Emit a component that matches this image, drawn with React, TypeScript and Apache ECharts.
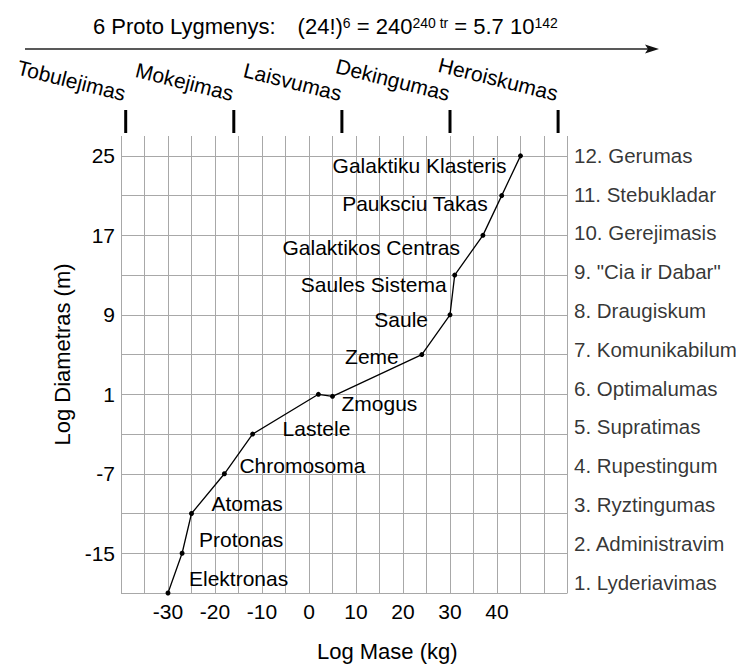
import React, { useEffect, useRef } from 'react';
import * as echarts from 'echarts';

const FONT = '"Liberation Sans", Arial, Helvetica, sans-serif';

// ---- data ----
const objectNames = [
  'Elektronas', 'Protonas', 'Atomas', 'Chromosoma', 'Lastele', '', 'Zmogus',
  'Zeme', 'Saule', 'Saules Sistema', 'Galaktikos Centras', 'Pauksciu Takas', 'Galaktiku Klasteris',
];
const logMass = [-30, -27, -25, -18, -12, 2, 5, 24, 30, 31, 37, 41, 45];
const logDiameter = [-19, -15, -11, -7, -3, 1, 0.8, 5, 9, 13, 17, 21, 25];

const levelNames = [
  '1. Lyderiavimas', '2. Administravim', '3. Ryztingumas', '4. Rupestingum',
  '5. Supratimas', '6. Optimalumas', '7. Komunikabilum', '8. Draugiskum',
  '9. "Cia ir Dabar"', '10. Gerejimasis', '11. Stebukladar', '12. Gerumas',
];
const levelValues = [1, 2, 3, 4, 5, 6, 7, 8, 9, 10, 11, 12];

const protoLevels = ['Tobulejimas', 'Mokejimas', 'Laisvumas', 'Dekingumas', 'Heroiskumas'];
const protoLevelMass = [-39, -16, 7, 30, 53];

const xTickLabels = [-30, -20, -10, 0, 10, 20, 30, 40];
const yTickLabels = [25, 17, 9, 1, -7, -15];

// ---- label placement (styling, pixels relative to the point) ----
const labelPlacement: [number, number, string][] = [
  [21, -15, 'left'], [17, -14, 'left'], [20, -10, 'left'], [15, -8, 'left'], [30, -6, 'left'],
  [0, 0, 'left'], [9, 7, 'left'],
  [-23, 2, 'right'], [-22, 5, 'right'], [-8, 9, 'right'], [-23, 12, 'right'],
  [-14, 8, 'right'], [-14, 10, 'right'],
];

const X_MIN = -40, X_MAX = 55, Y_MIN = -19, Y_MAX = 27;

export default function App() {
  const ref = useRef<HTMLDivElement>(null);
  useEffect(() => {
    if (!ref.current) return;
    const chart = echarts.init(ref.current, undefined, { renderer: 'svg' });
    const SYM = 5;
    const main = { fontSize: 22, fontFamily: FONT, fontWeight: 'normal', color: '#000', lineHeight: 21, verticalAlign: 'bottom' };
    const option: any = {
      animation: false,
      textStyle: { fontFamily: FONT, color: '#000' },
      title: {
        text: '{m|6 Proto Lygmenys:}{g|(24!)}{s|6}{m| = 240}{s|240 tr}{m| = 5.7 10}{s|142}',
        left: 93,
        top: 16,
        padding: 0,
        textStyle: {
          fontWeight: 'normal',
          fontSize: 22,
          fontFamily: FONT,
          color: '#000',
          rich: {
            m: main,
            g: { ...main, padding: [0, 0, 0, 22] },
            s: { fontSize: 14, fontFamily: FONT, fontWeight: 'normal', color: '#000', lineHeight: 14, verticalAlign: 'top' },
          },
        },
      },
      grid: { left: 121, right: 183.5, top: 136, bottom: 71 },
      xAxis: {
        type: 'value',
        min: X_MIN,
        max: X_MAX,
        interval: 5,
        axisLine: { show: false },
        axisTick: { show: false },
        splitLine: { show: true, lineStyle: { color: '#a8a8a8', width: 1 } },
        axisLabel: {
          fontSize: 21,
          fontFamily: FONT,
          color: '#000',
          margin: 8,
          formatter: (v: number) => (xTickLabels.includes(v) ? String(v) : ''),
        },
        name: 'Log Mase (kg)',
        nameLocation: 'middle',
        nameGap: 47,
        nameTextStyle: { fontSize: 22, fontFamily: FONT, color: '#000', padding: [0, 0, 0, 86] },
      },
      yAxis: [
        {
          type: 'value',
          min: Y_MIN,
          max: Y_MAX,
          interval: 4,
          axisLine: { show: false },
          axisTick: { show: false },
          splitLine: { show: true, showMaxLine: false, lineStyle: { color: '#a8a8a8', width: 1 } },
          axisLabel: {
            fontSize: 21,
            fontFamily: FONT,
            color: '#000',
            margin: 6,
            showMaxLabel: false,
            formatter: (v: number) => (yTickLabels.includes(v) ? String(v) : ''),
          },
          name: 'Log Diametras (m)',
          nameLocation: 'middle',
          nameGap: 22,
          nameTextStyle: { fontSize: 22, fontFamily: FONT, color: '#000', padding: [0, 0, 0, 20] },
        },
        { type: 'value', min: 0.72, max: 12.5, show: false },
      ],
      series: [
        {
          type: 'line',
          xAxisIndex: 0,
          yAxisIndex: 0,
          clip: false,
          symbol: 'circle',
          symbolSize: SYM,
          itemStyle: { color: '#000' },
          lineStyle: { color: '#000', width: 1.3 },
          label: { show: true, formatter: '{b}', fontSize: 21, fontFamily: FONT, color: '#000' },
          data: logMass.map((x, i) => {
            const [dx, dy, align] = labelPlacement[i];
            return {
              name: objectNames[i],
              value: [x, logDiameter[i]],
              label: objectNames[i]
                ? { show: true, position: [dx + SYM / 2, dy + SYM / 2], align, verticalAlign: 'middle' }
                : { show: false },
            };
          }),
        },
        {
          type: 'scatter',
          xAxisIndex: 0,
          yAxisIndex: 1,
          clip: false,
          silent: true,
          symbolSize: 1,
          itemStyle: { color: 'rgba(0,0,0,0)' },
          label: {
            show: true,
            position: 'right',
            distance: 6,
            formatter: '{b}',
            fontSize: 20.5,
            fontFamily: FONT,
            color: '#000',
          },
          data: levelValues.map((v, i) => ({ name: levelNames[i], value: [X_MAX, v] })),
        },
      ],
    };
    chart.setOption(option);

    const graphics: any[] = [
      { type: 'line', shape: { x1: 25, y1: 49, x2: 650, y2: 49 }, style: { stroke: '#222', lineWidth: 1.5 } },
      {
        type: 'polygon',
        shape: { points: [[645, 44.5], [659, 49], [645, 53.5], [648, 49]] },
        style: { fill: '#111' },
      },
    ];
    protoLevelMass.forEach((m, i) => {
      const px = chart.convertToPixel({ xAxisIndex: 0 }, m) as number;
      graphics.push({
        type: 'line',
        shape: { x1: px, y1: 110, x2: px, y2: 133 },
        style: { stroke: '#000', lineWidth: 3 },
      });
      graphics.push({
        type: 'text',
        x: px - 3,
        y: 104,
        rotation: (-14 * Math.PI) / 180,
        style: {
          text: protoLevels[i],
          fontSize: 21,
          fontFamily: FONT,
          fill: '#000',
          align: 'right',
          verticalAlign: 'bottom',
          textAlign: 'right',
          textVerticalAlign: 'bottom',
        },
      });
    });
    chart.setOption({ graphic: graphics });

    return () => chart.dispose();
  }, []);
  return (
    <div
      ref={ref}
      style={{ position: 'fixed', left: 0, top: 0, width: 751, height: 667, background: '#fff' }}
    />
  );
}
